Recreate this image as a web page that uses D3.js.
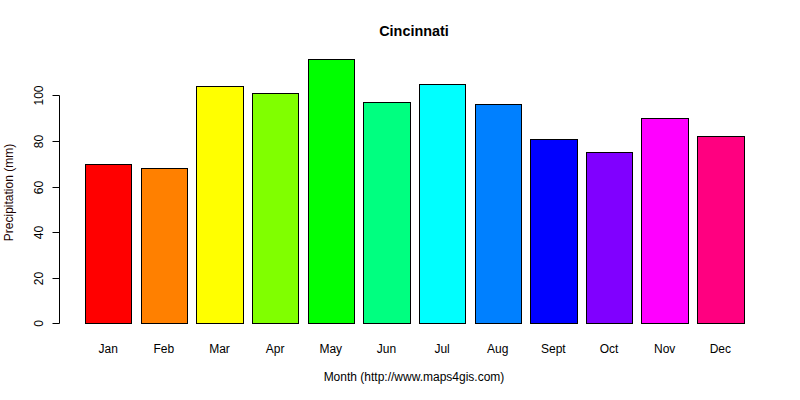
<!DOCTYPE html>
<html>
<head>
<meta charset="utf-8">
<script src="https://cdn.jsdelivr.net/npm/d3@7"></script>
<style>
  html, body { margin: 0; padding: 0; background: #fff; }
  svg { display: block; font-family: "Liberation Sans", Arial, sans-serif; }
</style>
</head>
<body>
<svg id="chart" width="800" height="400"></svg>
<script>
const months = ["Jan","Feb","Mar","Apr","May","Jun","Jul","Aug","Sept","Oct","Nov","Dec"];
const precipitation = [70, 68, 104, 101, 116, 97, 105, 96, 81, 75, 90, 82];
const barColors = ["#FF0000","#FF8000","#FFFF00","#80FF00","#00FF00","#00FF80","#00FFFF","#0080FF","#0000FF","#8000FF","#FF00FF","#FF0080"];
const yTicks = [0, 20, 40, 60, 80, 100];
const title = "Cincinnati";
const xTitle = "Month (http://www.maps4gis.com)";
const yTitle = "Precipitation (mm)";

const svg = d3.select("#chart");

const x = d3.scaleBand()
  .domain(months)
  .range([85, 743.5])
  .paddingInner(1/6)
  .paddingOuter(0);

const y = d3.scaleLinear()
  .domain([0, 100])
  .range([323.3, 95.3]);

const snap = v => Math.round(v) + 0.5;

// bars
svg.append("g")
  .selectAll("rect")
  .data(months)
  .join("rect")
  .attr("x", d => snap(x(d)))
  .attr("y", (d, i) => snap(y(precipitation[i])))
  .attr("width", d => Math.round(x(d) + x.bandwidth()) - Math.round(x(d)))
  .attr("height", (d, i) => Math.round(y(0)) - Math.round(y(precipitation[i])))
  .attr("fill", (d, i) => barColors[i])
  .attr("stroke", "#000")
  .attr("stroke-width", 1);

// y axis
const yAxis = d3.axisLeft(y)
  .tickValues(yTicks)
  .tickSize(7)
  .tickSizeOuter(0);

const gy = svg.append("g")
  .attr("transform", "translate(59.5,0)")
  .call(yAxis);
gy.select(".domain")
  .attr("d", `M0,${snap(y(0))}V${snap(y(100))}`)
  .attr("stroke", "#000");
gy.selectAll(".tick").attr("transform", d => `translate(0,${snap(y(d))})`);
gy.selectAll(".tick line").attr("stroke", "#000");
gy.selectAll(".tick text")
  .attr("x", 0).attr("y", 0).attr("dy", null)
  .attr("transform", "translate(-17,0) rotate(-90)")
  .attr("text-anchor", "middle")
  .attr("fill", "#000")
  .style("font-size", "12px")
  .style("font-family", "'Liberation Sans', Arial, sans-serif");

// x labels (no axis line, as in R barplot)
svg.append("g")
  .selectAll("text")
  .data(months)
  .join("text")
  .attr("x", d => x(d) + x.bandwidth() / 2)
  .attr("y", 352.5)
  .attr("text-anchor", "middle")
  .attr("fill", "#000")
  .style("font-size", "12px")
  .text(d => d);

// title
svg.append("text")
  .attr("x", 414)
  .attr("y", 35.5)
  .attr("text-anchor", "middle")
  .style("font-size", "14.4px")
  .style("font-weight", "bold")
  .attr("fill", "#000")
  .text(title);

// x title
svg.append("text")
  .attr("x", 414)
  .attr("y", 381)
  .attr("text-anchor", "middle")
  .style("font-size", "12px")
  .attr("fill", "#000")
  .text(xTitle);

// y title
svg.append("text")
  .attr("transform", "translate(13,192.5) rotate(-90)")
  .attr("text-anchor", "middle")
  .style("font-size", "12px")
  .attr("fill", "#1a0000")
  .text(yTitle);
</script>
</body>
</html>
